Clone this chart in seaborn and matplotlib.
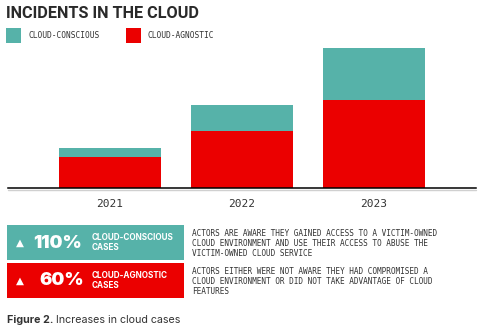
import matplotlib
matplotlib.use("Agg")
import matplotlib.pyplot as plt
import seaborn as sns
import pandas as pd
from matplotlib.patches import Rectangle
from matplotlib.lines import Line2D

years = ["2021", "2022", "2023"]
cloud_agnostic = [31, 57, 88]
cloud_conscious = [9, 26, 52]
series_names = ["CLOUD-CONSCIOUS", "CLOUD-AGNOSTIC"]
increase_labels = ["110%", "60%"]
increase_names = [["CLOUD-CONSCIOUS", "CASES"], ["CLOUD-AGNOSTIC", "CASES"]]
descriptions = [
    ["ACTORS ARE AWARE THEY GAINED ACCESS TO A VICTIM-OWNED",
     "CLOUD ENVIRONMENT AND USE THEIR ACCESS TO ABUSE THE",
     "VICTIM-OWNED CLOUD SERVICE"],
    ["ACTORS EITHER WERE NOT AWARE THEY HAD COMPROMISED A",
     "CLOUD ENVIRONMENT OR DID NOT TAKE ADVANTAGE OF CLOUD",
     "FEATURES"],
]
title = "INCIDENTS IN THE CLOUD"
caption_bold = "Figure 2."
caption_rest = " Increases in cloud cases"

TEAL = "#56b2a9"
RED = "#eb0000"
DARK = "#333333"
MONO = "DejaVu Sans Mono"
SANS = "Inter"

sns.set_theme(style="white")
plt.rcParams["font.family"] = ["Inter", "DejaVu Sans"]

W, H = 481, 331
fig = plt.figure(figsize=(W / 100, H / 100), dpi=100)


def fx(x):
    return x / W


def fy(y):
    return 1 - y / H


df = pd.DataFrame({
    "year": years,
    "agnostic": cloud_agnostic,
    "total": [a + c for a, c in zip(cloud_agnostic, cloud_conscious)],
})

base_y = 187.7
top_y = 47.7
ax = fig.add_axes([fx(8), fy(base_y), fx(476) - fx(8), (base_y - top_y) / H])
sns.barplot(data=df, x="year", y="total", color=TEAL, width=0.773,
            saturation=1, ax=ax, linewidth=0)
sns.barplot(data=df, x="year", y="agnostic", color=RED, width=0.773,
            saturation=1, ax=ax, linewidth=0)
ax.set_xlim(-0.773, 2.773)
ax.set_ylim(0, max(df["total"]))
ax.set_xlabel("")
ax.set_ylabel("")
ax.set_yticks([])
ax.set_xticks(range(len(years)), years, family=MONO, fontsize=8, color=DARK)
for s in ["top", "right", "left"]:
    ax.spines[s].set_visible(False)
ax.spines["bottom"].set_color("black")
ax.spines["bottom"].set_linewidth(1.1)
ax.spines["bottom"].set_zorder(5)
ax.tick_params(axis="x", length=0, pad=8)

# grey line under baseline
fig.add_artist(Line2D([fx(8), fx(476)], [fy(189.6), fy(189.6)],
                      color="#d0d0d0", lw=1.0, zorder=0))

# title
fig.text(fx(6), fy(14), title, fontsize=11.7, fontweight="bold",
         color="#2a2a2a", va="center", ha="left", family=["Roboto", "DejaVu Sans"])

# legend
fig.add_artist(Rectangle((fx(6), fy(42.7)), fx(14.7), (42.7 - 28) / H,
                         color=TEAL, transform=fig.transFigure, lw=0))
fig.text(fx(29), fy(35.5), series_names[0], fontsize=5.7, family=MONO,
         color=DARK, va="center")
fig.add_artist(Rectangle((fx(126), fy(42.7)), fx(14.7), (42.7 - 28) / H,
                         color=RED, transform=fig.transFigure, lw=0))
fig.text(fx(148), fy(35.5), series_names[1], fontsize=5.7, family=MONO,
         color=DARK, va="center")

# bottom boxes
boxes = [(225, 260, TEAL), (262.7, 297.7, RED)]
num_x = [33, 39]
for i, (y0, y1, col) in enumerate(boxes):
    fig.add_artist(Rectangle((fx(7), fy(y1)), fx(184) - fx(7), (y1 - y0) / H,
                             color=col, transform=fig.transFigure, lw=0))
    cy = (y0 + y1) / 2
    fig.text(fx(20), fy(cy + 0.5), "\u25B2", fontsize=7.5, color="white",
             ha="center", va="center", family="DejaVu Sans")
    fig.text(fx(num_x[i]), fy(cy + 0.5), increase_labels[i], fontsize=13.2,
             fontweight="black", color="white", ha="left", va="center",
             family=[SANS, "DejaVu Sans"])
    fig.text(fx(92), fy(cy - 5), increase_names[i][0], fontsize=5.9,
             fontweight="bold", color="white", ha="left", va="center",
             family=[SANS, "DejaVu Sans"])
    fig.text(fx(92), fy(cy + 5), increase_names[i][1], fontsize=5.9,
             fontweight="bold", color="white", ha="left", va="center",
             family=[SANS, "DejaVu Sans"])
    for j, line in enumerate(descriptions[i]):
        fig.text(fx(192), fy(y0 + 8.3 + 10 * j), line, fontsize=5.55,
                 family=MONO, color=DARK, ha="left", va="center")

# caption
t = fig.text(fx(7), fy(320), caption_bold, fontsize=7.7, fontweight="bold",
             color=DARK, ha="left", va="center", family=[SANS, "DejaVu Sans"])
fig.canvas.draw()
bb = t.get_window_extent()
fig.text(bb.x1 / W, fy(320), caption_rest, fontsize=7.7,
         color=DARK, ha="left", va="center", family=[SANS, "DejaVu Sans"])

fig.savefig("out.png", dpi=100)
